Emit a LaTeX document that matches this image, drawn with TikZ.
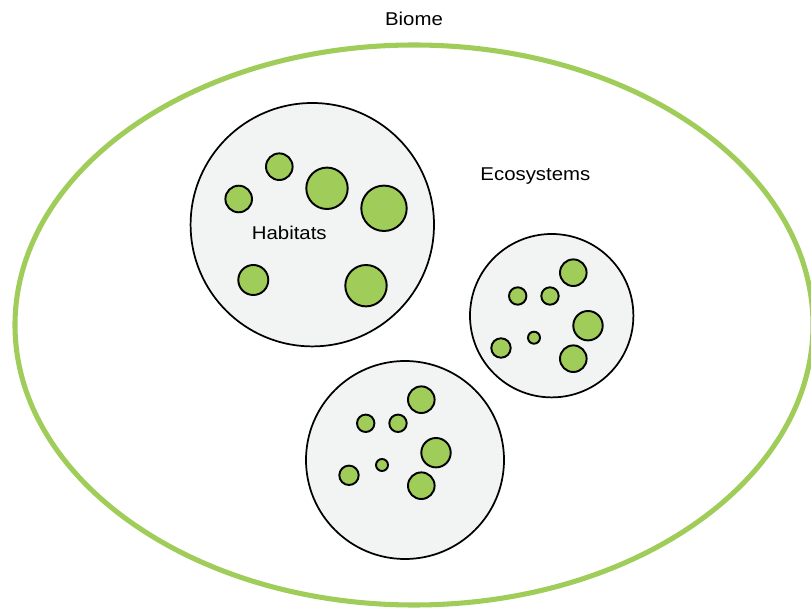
\documentclass[tikz,border=0pt]{standalone}
\usepackage{fontspec}
\newfontfamily\labelfont[FakeStretch=1.1]{Liberation Sans}
\usepackage{xcolor}
\definecolor{leaf}{RGB}{160,205,90}
\definecolor{cellgrey}{RGB}{242,243,243}
\usepackage{tikz}
\usetikzlibrary{positioning}

\begin{document}
\begin{tikzpicture}[x=0.75pt, y=-0.75pt, font=\labelfont\fontsize{13.9}{16}\selectfont]
\tikzset{biome/.style={draw=leaf, line width=3.8pt},
  eco/.style={draw=black, fill=cellgrey, line width=1.3pt},
  dot/.style={draw=black, fill=leaf, line width=1.45pt},
  lbl/.style={anchor=base, inner sep=0pt}}
\useasboundingbox (0,0) rectangle (811,609);
\clip (0,0) rectangle (811,609);
% biome
\draw[biome] (414,325) ellipse [x radius=399, y radius=280];
\node[lbl] (biome) at (414,25.7) {Biome};
\node[lbl] (ecos)  at (535.4,180.7) {Ecosystems};
% ecosystem with habitats
\draw[eco] (312.3,224.7) circle (121.7);
\draw[dot] (279.3,166.7) circle (13.3);
\draw[dot] (238.7,199)   circle (13.3);
\draw[dot] (327,188.3)   circle (20.7);
\draw[dot] (384,208.3)   circle (22.7);
\draw[dot] (253.3,280)   circle (15);
\draw[dot] (366,285.7)   circle (20.7);
\node[lbl] (hab) at (289.3,240) {Habitats};
% right ecosystem
\draw[eco] (551.7,315.7) circle (81.7);
\draw[dot] (573.3,272.7) circle (13.3);
\draw[dot] (517.7,296)   circle (8.7);
\draw[dot] (550,296)     circle (8.7);
\draw[dot] (588,325.7)   circle (14.7);
\draw[dot] (534,337.7)   circle (6);
\draw[dot] (501,348)     circle (9.7);
\draw[dot] (573.3,358.7) circle (13.3);
% lower ecosystem
\draw[eco] (405,460) circle (99);
\draw[dot] (421.3,399.7) circle (13.3);
\draw[dot] (365.7,423.3) circle (8.7);
\draw[dot] (398,423.3)   circle (8.7);
\draw[dot] (436,452.7)   circle (14.7);
\draw[dot] (382,465)     circle (6);
\draw[dot] (349,475.3)   circle (9.7);
\draw[dot] (421.3,485.7) circle (13.3);
\end{tikzpicture}
\end{document}
